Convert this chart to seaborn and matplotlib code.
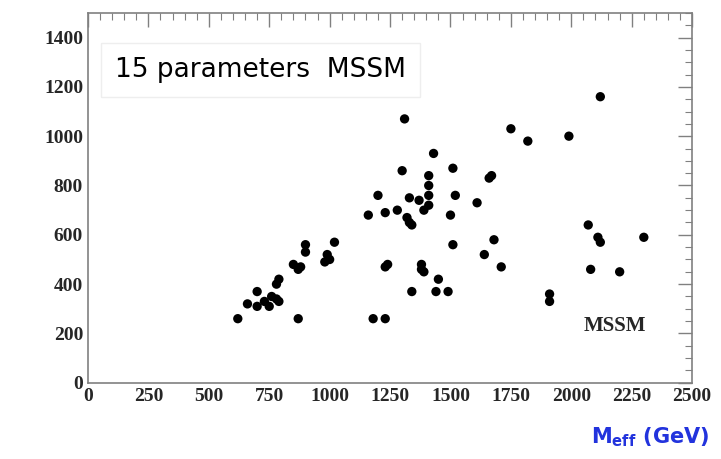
import matplotlib
matplotlib.use("Agg")
import matplotlib.pyplot as plt
import seaborn as sns
import pandas as pd
from matplotlib.ticker import MultipleLocator

sns.set_theme(style="white")

# M_eff (GeV) and second variable
meff = [620, 660, 700, 700, 730, 750, 760, 780, 780, 790, 790, 850, 870, 870, 880, 900, 900,
        980, 990, 1000, 1020, 1160, 1200, 1230, 1230, 1240, 1180, 1230, 1280, 1300, 1310, 1320,
        1330, 1340, 1330, 1340, 1370, 1380, 1380, 1390, 1390, 1410, 1410, 1410, 1410, 1430, 1440,
        1450, 1490, 1500, 1510, 1510, 1520, 1610, 1640, 1660, 1670, 1680, 1710, 1750, 1820, 1910,
        1910, 1990, 2070, 2080, 2110, 2120, 2120, 2200, 2300]
yval = [260, 320, 310, 370, 330, 310, 350, 340, 400, 420, 330, 480, 460, 260, 470, 530, 560,
        490, 520, 500, 570, 680, 760, 690, 470, 480, 260, 260, 700, 860, 1070, 670,
        650, 640, 750, 370, 740, 460, 480, 450, 700, 720, 760, 800, 840, 930, 370,
        420, 370, 680, 870, 560, 760, 730, 520, 830, 840, 580, 470, 1030, 980, 360,
        330, 1000, 640, 460, 590, 570, 1160, 450, 590]
df = pd.DataFrame({"Meff": meff, "y": yval})

fig = plt.figure(figsize=(7.21, 4.59), dpi=100)
ax = fig.add_axes([0.122, 0.166, 0.838, 0.806])
sns.scatterplot(data=df, x="Meff", y="y", ax=ax, color="black", s=45, edgecolor="none")

ax.set_xlim(0, 2500)
ax.set_ylim(0, 1500)
ax.set_xticks(range(0, 2501, 250))
ax.set_yticks(range(0, 1401, 200))
ax.xaxis.set_minor_locator(MultipleLocator(50))
ax.yaxis.set_minor_locator(MultipleLocator(50))
ax.tick_params(which="both", direction="in", top=True, right=True, color="gray")
ax.tick_params(which="major", length=10, width=1)
ax.tick_params(which="minor", length=5, width=0.8)
for lab in ax.get_xticklabels() + ax.get_yticklabels():
    lab.set_fontfamily("Liberation Serif")
    lab.set_fontweight("bold")
    lab.set_fontsize(14)
for sp in ax.spines.values():
    sp.set_color("gray")
    sp.set_linewidth(1.2)
ax.set_xlabel("")
ax.set_ylabel("")

ax.text(0.045, 0.845, "15 parameters  MSSM", transform=ax.transAxes, fontsize=19,
        family="DejaVu Sans", color="black", va="center",
        bbox=dict(facecolor="white", edgecolor="#eeeeee", pad=10))
ax.text(0.82, 0.14, "MSSM", transform=ax.transAxes, fontsize=15, family="Liberation Serif",
        fontweight="bold")
fig.text(0.82, 0.035, r"$\mathbf{M_{eff}}$ (GeV)", color="#2233dd", fontsize=15,
         fontweight="bold", family="DejaVu Sans")

fig.savefig("out.png", dpi=100)
